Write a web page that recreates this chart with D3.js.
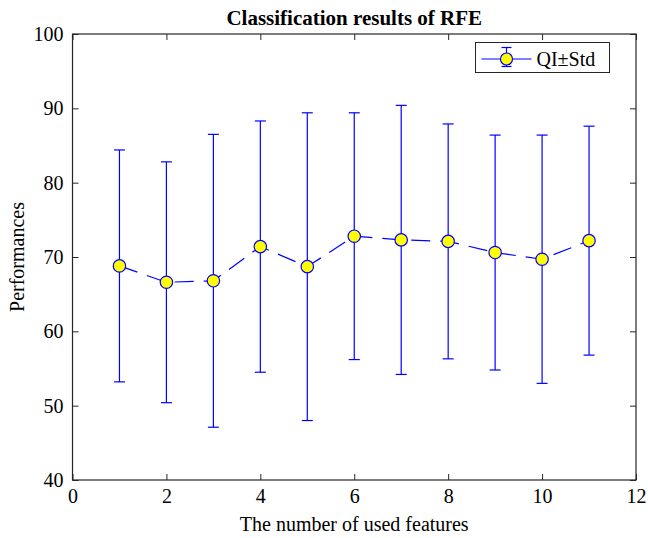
<!DOCTYPE html>
<meta charset="utf-8">
<style>
  body { margin: 0; background: #fff; }
  svg text { font-family: "Liberation Serif", "Times New Roman", serif; fill: #000; }
  .axis path, .axis line { stroke: #262626; }
  .axis text { font-size: 20px; }
</style>
<svg width="648" height="538"></svg>
<script src="https://d3js.org/d3.v7.min.js"></script>
<script>

// features used, mean QI and its std
var features = [1, 2, 3, 4, 5, 6, 7, 8, 9, 10, 11];
var qi  = [68.8, 66.6, 66.8, 71.4, 68.7, 72.8, 72.3, 72.1, 70.6, 69.7, 72.2];
var std = [15.6, 16.2, 19.7, 16.9, 20.7, 16.6, 18.1, 15.8, 15.8, 16.7, 15.4];
var xTicks = [0, 2, 4, 6, 8, 10, 12];
var yTicks = [40, 50, 60, 70, 80, 90, 100];

var svg = d3.select("svg"),
    margin = {top: 34, right: 12, bottom: 58, left: 72.5},
    width = +svg.attr("width") - margin.left - margin.right,
    height = +svg.attr("height") - margin.top - margin.bottom;

var x = d3.scaleLinear().domain([0, 12]).range([0, width]),
    y = d3.scaleLinear().domain([40, 100]).range([height, 0]);

var g = svg.append("g")
    .attr("transform", "translate(" + margin.left + "," + margin.top + ")");

var data = features.map(function(f, i) { return {x: f, m: qi[i], s: std[i]}; });

// box
g.append("rect")
    .attr("width", width).attr("height", height)
    .attr("fill", "none").attr("stroke", "#262626").attr("stroke-width", 1.2);

g.append("g")
    .attr("class", "axis")
    .attr("transform", "translate(0," + height + ")")
    .call(d3.axisBottom(x).tickValues(xTicks).tickSize(-6).tickPadding(9).tickSizeOuter(0));

g.append("g")
    .attr("class", "axis")
    .call(d3.axisTop(x).tickValues(xTicks).tickSize(-6).tickFormat("").tickSizeOuter(0));

g.append("g")
    .attr("class", "axis")
    .call(d3.axisLeft(y).tickValues(yTicks).tickSize(-6).tickPadding(9).tickSizeOuter(0));

g.append("g")
    .attr("class", "axis")
    .attr("transform", "translate(" + width + ",0)")
    .call(d3.axisRight(y).tickValues(yTicks).tickSize(-6).tickFormat("").tickSizeOuter(0));

g.selectAll(".axis .domain").remove();

// dashed line through the means
var line = d3.line()
    .x(function(d) { return x(d.x); })
    .y(function(d) { return y(d.m); });

g.append("path")
    .datum(data)
    .attr("fill", "none")
    .attr("stroke", "#0000ff")
    .attr("stroke-width", 1.2)
    .attr("stroke-dasharray", "19,10")
    .attr("d", line);

// error bars
var cap = 5.5;
var eb = g.selectAll(".eb").data(data).enter().append("g")
    .attr("fill", "none").attr("stroke", "#0000ff").attr("stroke-width", 1.2);

eb.append("line")
    .attr("x1", function(d) { return x(d.x); })
    .attr("x2", function(d) { return x(d.x); })
    .attr("y1", function(d) { return y(d.m - d.s); })
    .attr("y2", function(d) { return y(d.m + d.s); });

eb.append("line")
    .attr("x1", function(d) { return x(d.x) - cap; })
    .attr("x2", function(d) { return x(d.x) + cap; })
    .attr("y1", function(d) { return y(d.m + d.s); })
    .attr("y2", function(d) { return y(d.m + d.s); });

eb.append("line")
    .attr("x1", function(d) { return x(d.x) - cap; })
    .attr("x2", function(d) { return x(d.x) + cap; })
    .attr("y1", function(d) { return y(d.m - d.s); })
    .attr("y2", function(d) { return y(d.m - d.s); });

g.selectAll(".pt").data(data).enter().append("circle")
    .attr("cx", function(d) { return x(d.x); })
    .attr("cy", function(d) { return y(d.m); })
    .attr("r", 6.2)
    .attr("fill", "#ffff00")
    .attr("stroke", "#0000ff")
    .attr("stroke-width", 1.2);

// title and labels
svg.append("text")
    .attr("x", margin.left + width / 2)
    .attr("y", 25)
    .attr("text-anchor", "middle")
    .attr("font-weight", "bold")
    .attr("font-size", "21px")
    .text("Classification results of RFE");

svg.append("text")
    .attr("x", margin.left + width / 2)
    .attr("y", 531)
    .attr("text-anchor", "middle")
    .attr("font-size", "20px")
    .text("The number of used features");

svg.append("text")
    .attr("transform", "translate(24," + (margin.top + height / 2) + ") rotate(-90)")
    .attr("text-anchor", "middle")
    .attr("font-size", "20px")
    .text("Performances");

// legend
var lg = svg.append("g").attr("transform", "translate(475.5,42.5)");
lg.append("rect")
    .attr("width", 134).attr("height", 30)
    .attr("fill", "#fff").attr("stroke", "#262626");
var ly = 16.5, lx = 31;
lg.append("line").attr("x1", 6).attr("x2", 56).attr("y1", ly).attr("y2", ly)
    .attr("stroke", "#0000ff").attr("stroke-width", 1.2);
lg.append("line").attr("x1", lx).attr("x2", lx).attr("y1", 5).attr("y2", 24)
    .attr("stroke", "#0000ff").attr("stroke-width", 1.2);
lg.append("line").attr("x1", lx - 5).attr("x2", lx + 5).attr("y1", 5).attr("y2", 5)
    .attr("stroke", "#0000ff").attr("stroke-width", 1.2);
lg.append("line").attr("x1", lx - 5).attr("x2", lx + 5).attr("y1", 24).attr("y2", 24)
    .attr("stroke", "#0000ff").attr("stroke-width", 1.2);
lg.append("circle").attr("cx", lx).attr("cy", ly).attr("r", 6)
    .attr("fill", "#ffff00").attr("stroke", "#0000ff").attr("stroke-width", 1.2);
lg.append("text").attr("x", 61).attr("y", 23)
    .attr("font-size", "20px")
    .text("QI\u00b1Std");

</script>
